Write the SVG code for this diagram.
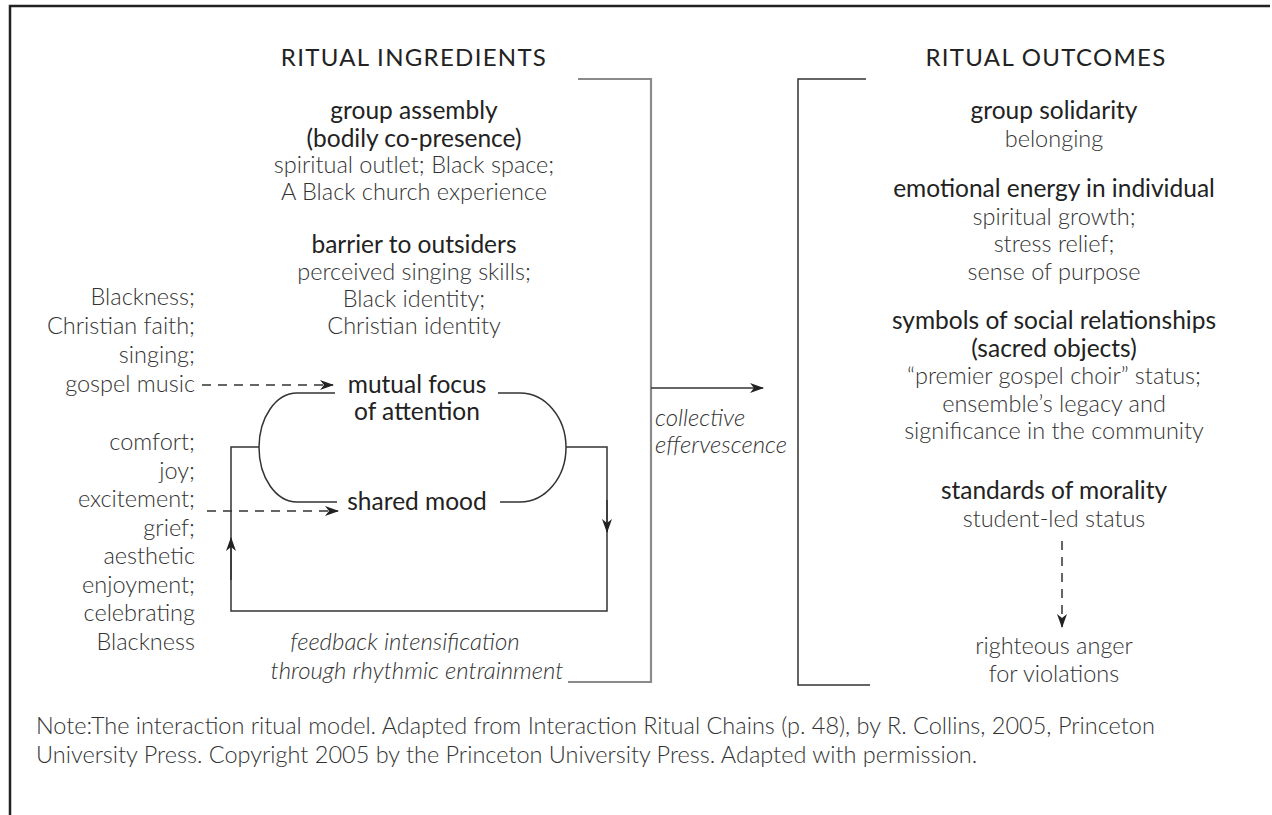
<svg xmlns="http://www.w3.org/2000/svg" width="1272" height="815" viewBox="0 0 1272 815">
<defs>
<style>
text{font-family:Lato,"Open Sans","Liberation Sans",sans-serif;fill:#333;font-size:23.5px}
.t{font-weight:400;fill:#222;font-size:24px;letter-spacing:1.3px}
.h{font-weight:400;fill:#222;font-size:24.5px}
.b{font-weight:300}
.i{font-weight:300;font-style:italic;font-size:24px}
.c{text-anchor:middle}
.r{text-anchor:end}
.ln{fill:none;stroke:#333;stroke-width:1.5}
.gr{fill:none;stroke:#8a8a8a;stroke-width:2.2}
.ds{fill:none;stroke:#333;stroke-width:1.5;stroke-dasharray:9 7}
</style>
<marker id="ah" viewBox="0 0 14 10" refX="13" refY="5" markerWidth="14" markerHeight="10" markerUnits="userSpaceOnUse" orient="auto">
<path d="M0,0 L14,5 L0,10 L4,5 z" fill="#222"/>
</marker>
</defs>
<rect width="1272" height="815" fill="#fff"/>
<path d="M10,815 V6 H1270" fill="none" stroke="#222" stroke-width="2.5"/>

<g id="title-ingredients"><text class="t c" x="414" y="66">RITUAL INGREDIENTS</text></g>
<g id="group-assembly">
<text class="h c" x="414" y="119">group assembly</text>
<text class="h c" x="414" y="147">(bodily co-presence)</text>
<text class="b c" x="414" y="173">spiritual outlet; Black space;</text>
<text class="b c" x="414" y="200">A Black church experience</text>
</g>
<g id="barrier">
<text class="h c" x="414" y="253">barrier to outsiders</text>
<text class="b c" x="414" y="280">perceived singing skills;</text>
<text class="b c" x="414" y="307">Black identity;</text>
<text class="b c" x="414" y="334">Christian identity</text>
</g>
<g id="focus-inputs">
<text class="b r" x="195" y="305">Blackness;</text>
<text class="b r" x="195" y="334">Christian faith;</text>
<text class="b r" x="195" y="363">singing;</text>
<text class="b r" x="195" y="392">gospel music</text>
</g>
<g id="mood-inputs">
<text class="b r" x="195" y="450">comfort;</text>
<text class="b r" x="195" y="478.5">joy;</text>
<text class="b r" x="195" y="507">excitement;</text>
<text class="b r" x="195" y="535.5">grief;</text>
<text class="b r" x="195" y="564">aesthetic</text>
<text class="b r" x="195" y="592.5">enjoyment;</text>
<text class="b r" x="195" y="621">celebrating</text>
<text class="b r" x="195" y="649.5">Blackness</text>
</g>
<g id="mutual-focus">
<text class="h c" x="417" y="393">mutual focus</text>
<text class="h c" x="417" y="420">of attention</text>
</g>
<g id="shared-mood"><text class="h c" x="417" y="510">shared mood</text></g>
<g id="feedback">
<text class="i c" x="405" y="650">feedback intensification</text>
<text class="i c" x="417" y="679">through rhythmic entrainment</text>
</g>
<g id="collective">
<text class="i" x="655" y="426">collective</text>
<text class="i" x="655" y="453">effervescence</text>
</g>
<g id="title-outcomes"><text class="t c" x="1046" y="66">RITUAL OUTCOMES</text></g>
<g id="solidarity">
<text class="h c" x="1054" y="119">group solidarity</text>
<text class="b c" x="1054" y="147">belonging</text>
</g>
<g id="emotional-energy">
<text class="h c" x="1054" y="197">emotional energy in individual</text>
<text class="b c" x="1054" y="224.5">spiritual growth;</text>
<text class="b c" x="1054" y="252">stress relief;</text>
<text class="b c" x="1054" y="279.5">sense of purpose</text>
</g>
<g id="symbols">
<text class="h c" x="1054" y="329">symbols of social relationships</text>
<text class="h c" x="1054" y="356.5">(sacred objects)</text>
<text class="b c" x="1054" y="384">“premier gospel choir” status;</text>
<text class="b c" x="1054" y="411.5">ensemble’s legacy and</text>
<text class="b c" x="1054" y="439">significance in the community</text>
</g>
<g id="morality">
<text class="h c" x="1054" y="499">standards of morality</text>
<text class="b c" x="1054" y="527">student-led status</text>
</g>
<g id="anger">
<text class="b c" x="1054" y="654" font-size="22.5">righteous anger</text>
<text class="b c" x="1054" y="682" font-size="22.5">for violations</text>
</g>
<g id="note">
<text class="b" x="36" y="734" font-size="24">Note:The interaction ritual model. Adapted from Interaction Ritual Chains (p. 48), by R. Collins, 2005, Princeton</text>
<text class="b" x="36" y="763" font-size="24">University Press. Copyright 2005 by the Princeton University Press. Adapted with permission.</text>
</g>

<g id="connectors">
<path class="gr" d="M578,79 H651 V682 H568"/>
<path class="ln" d="M866,79 H798 V685 H870"/>
<path class="ln" d="M297,393 H335 M297,393 A38,54.5 0 0 0 297,502 H337 M498,393 H520 A46,54.5 0 0 1 520,502 H500"/>
<path class="ln" d="M259,447 H231 V611 H607 V447 H566"/>
<path class="ln" d="M607,500 V532" marker-end="url(#ah)"/>
<path class="ln" d="M231,580 V538" marker-end="url(#ah)"/>
<path class="ds" d="M202,385 H333" marker-end="url(#ah)"/>
<path class="ds" d="M207,511 H338" marker-end="url(#ah)"/>
<path class="ln" d="M651,388 H763" marker-end="url(#ah)"/>
<path class="ds" d="M1062,541 V627" marker-end="url(#ah)"/>
</g>
</svg>
